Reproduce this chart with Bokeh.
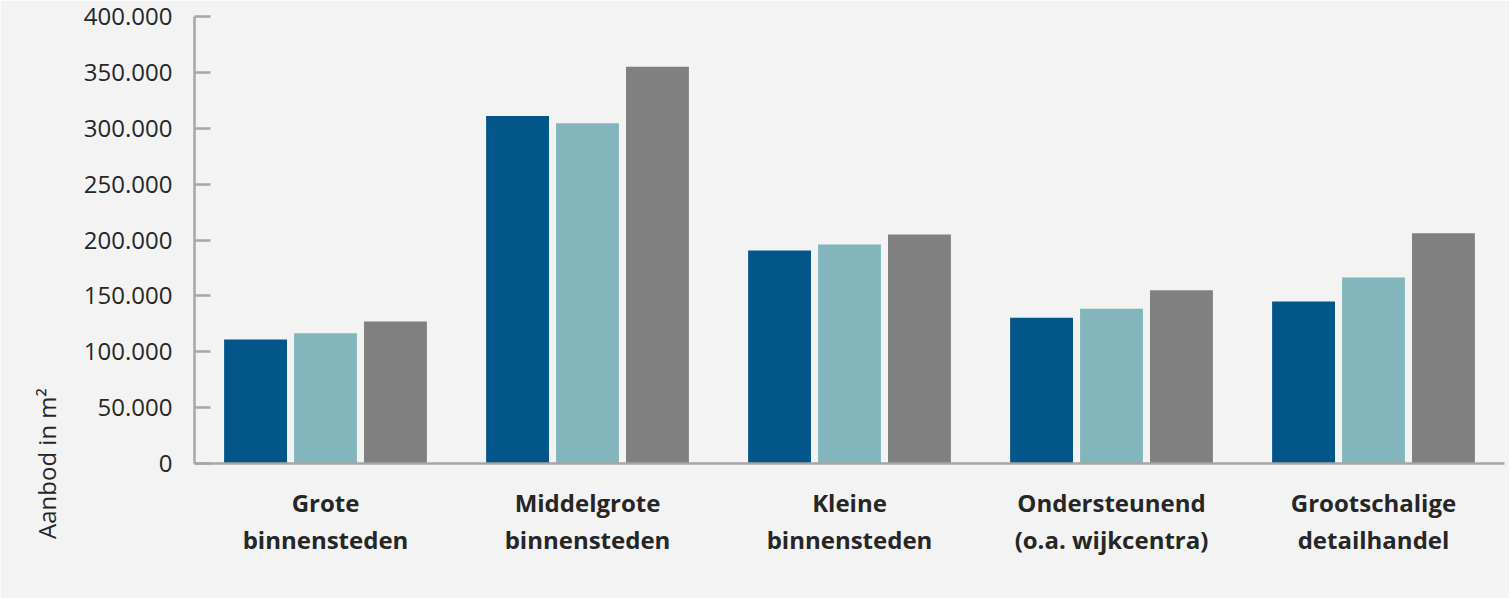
from bokeh.plotting import figure
from bokeh.models import (FactorRange, Range1d, ColumnDataSource, FixedTicker,
                          Legend, LegendItem)
from bokeh.transform import dodge
from bokeh.embed import file_html
from bokeh.resources import INLINE

# ---- data ----
categories = ["Grote\nbinnensteden", "Middelgrote\nbinnensteden", "Kleine\nbinnensteden",
              "Ondersteunend\n(o.a. wijkcentra)", "Grootschalige\ndetailhandel"]
series_names = ["2022 Q3", "2023 Q3", "2024 Q3"]
values_2022 = [111000, 311000, 190500, 130500, 145000]
values_2023 = [116500, 304500, 196000, 138500, 166500]
values_2024 = [127000, 355000, 205000, 155000, 206000]
y_ticks = [0, 50000, 100000, 150000, 200000, 250000, 300000, 350000, 400000]
y_tick_labels = ["0", "50.000", "100.000", "150.000", "200.000", "250.000",
                 "300.000", "350.000", "400.000"]
y_axis_title = "Aanbod in m²"

colors = ["#02568a", "#82b6bc", "#808080"]
BG = "#f3f3f3"
TXT = "#262626"
AX = "#a6a6a6"
FONT = "Open Sans"

src = ColumnDataSource(dict(cat=categories, v22=values_2022, v23=values_2023, v24=values_2024))

p = figure(frame_width=1310, frame_height=447, output_backend="svg", toolbar_location=None,
           x_range=FactorRange(*categories), y_range=Range1d(0, 400000))
p.min_border_left = 194
p.min_border_right = 5
p.min_border_top = 16
p.min_border_bottom = 110
p.background_fill_color = BG
p.border_fill_color = BG
p.outline_line_color = None
p.grid.visible = False

renderers = []
for key, off, col in zip(["v22", "v23", "v24"], [-0.267, 0.0, 0.267], colors):
    r = p.vbar(x=dodge("cat", off, range=p.x_range), top=key, width=0.24, source=src,
               fill_color=col, line_color=None)
    renderers.append(r)

# y axis
ya = p.yaxis[0]
ya.ticker = FixedTicker(ticks=y_ticks)
ya.major_label_overrides = {t: l for t, l in zip(y_ticks, y_tick_labels)}
ya.axis_line_color = AX
ya.axis_line_width = 2.5
ya.major_tick_line_color = AX
ya.major_tick_line_width = 2.5
ya.major_tick_in = 16
ya.major_tick_out = 0
ya.minor_tick_line_color = None
ya.major_label_standoff = 22
ya.major_label_text_font = FONT
ya.major_label_text_font_size = "24px"
ya.major_label_text_color = TXT
ya.axis_label = y_axis_title
ya.axis_label_text_font = FONT
ya.axis_label_text_font_size = "24px"
ya.axis_label_text_font_style = "normal"
ya.axis_label_text_color = TXT
ya.axis_label_standoff = 18
try:
    ya.axis_label_align = "start"
except Exception:
    pass

# x axis
xa = p.xaxis[0]
xa.axis_line_color = AX
xa.axis_line_width = 2.5
xa.major_tick_line_color = None
xa.minor_tick_line_color = None
xa.major_label_text_font = FONT
xa.major_label_text_font_size = "24px"
xa.major_label_text_font_style = "bold"
xa.major_label_text_color = TXT
xa.major_label_text_line_height = 1.15
xa.major_label_standoff = 16

legend = Legend(items=[LegendItem(label=n, renderers=[r]) for n, r in zip(series_names, renderers)],
                orientation="horizontal", location=(0, 0))
legend.background_fill_alpha = 0
legend.border_line_color = None
legend.padding = 0
legend.margin = 11
legend.spacing = 39
legend.glyph_width = 38
legend.glyph_height = 18
legend.label_standoff = 22
legend.label_text_font = FONT
legend.label_text_font_size = "24px"
legend.label_text_color = TXT
p.add_layout(legend, "below")

open("out.html", "w").write(file_html(p, INLINE))
